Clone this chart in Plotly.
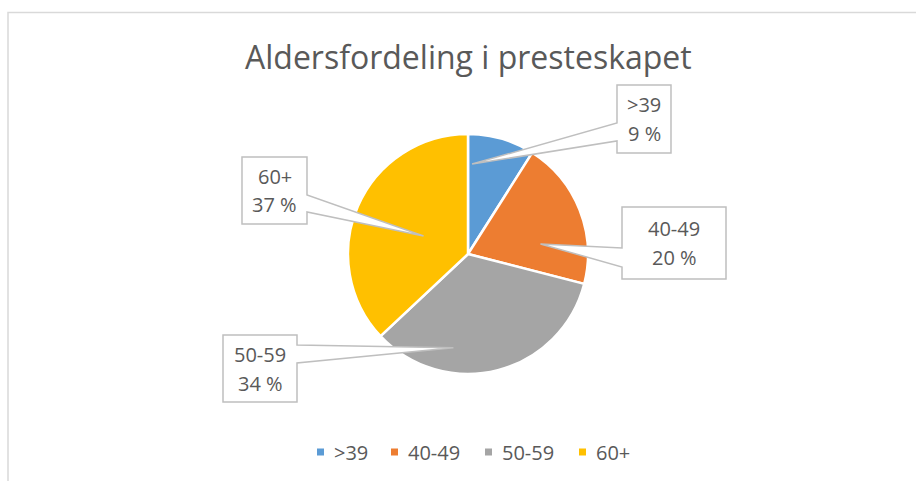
import math
import plotly.graph_objects as go

# ---- data ----
categories = [">39", "40-49", "50-59", "60+"]
values = [9, 20, 34, 37]
colors = ["#5B9BD5", "#ED7D31", "#A5A5A5", "#FFC000"]
title_text = "Aldersfordeling i presteskapet"

# ---- layout constants (pixels) ----
W, H = 916, 481
CX, CY, R = 468, 254, 120
TEXT_COLOR = "#595959"
LINE_COLOR = "#BFBFBF"
FONT = "Open Sans"

# callout boxes: (x0, y0, x1, y1), attach side, attach pair, tip fraction in slice, tip radius fraction
callouts = [
    dict(box=(617, 85, 671, 153), side="left", att=(123, 141), f=0.08, k=0.75),
    dict(box=(622, 207, 726, 279), side="left", att=(248, 267), f=0.69, k=0.61),
    dict(box=(223, 335, 297, 402), side="right", att=(345, 363), f=0.69, k=0.79),
    dict(box=(242, 157, 307, 224), side="right", att=(195, 212), f=0.49, k=0.40),
]
legend_x = [317, 391, 485, 579]
legend_y = 452


def px(x):
    return x / W


def py(y):
    return 1 - y / H


fig = go.Figure()
fig.add_trace(go.Pie(
    labels=categories,
    values=values,
    sort=False,
    direction="clockwise",
    rotation=0,
    marker=dict(colors=colors, line=dict(color="white", width=2.5)),
    textinfo="none",
    hoverinfo="skip",
    showlegend=False,
    domain=dict(x=[px(CX - R), px(CX + R)], y=[py(CY + R), py(CY - R)]),
))

shapes = []
annotations = []

# outer frame
shapes.append(dict(type="rect", xref="paper", yref="paper",
                   x0=px(8), x1=px(W + 10), y0=py(H + 10), y1=py(12.5),
                   line=dict(color="#D9D9D9", width=1.5), fillcolor="rgba(0,0,0,0)"))

total = sum(values)
cum = 0
for cat, val, c in zip(categories, values, callouts):
    start = cum / total * 360
    span = val / total * 360
    cum += val
    pct = round(val / total * 100)
    ang = math.radians(start + c["f"] * span)
    tx = CX + c["k"] * R * math.sin(ang)
    ty = CY - c["k"] * R * math.cos(ang)
    x0, y0, x1, y1 = c["box"]
    a1, a2 = c["att"]
    if c["side"] == "left":
        pts = [(x0, y0), (x1, y0), (x1, y1), (x0, y1), (x0, a2), (tx, ty), (x0, a1)]
    else:
        pts = [(x0, y0), (x1, y0), (x1, a1), (tx, ty), (x1, a2), (x1, y1), (x0, y1)]
    path = "M " + " L ".join(f"{px(a):.5f},{py(b):.5f}" for a, b in pts) + " Z"
    shapes.append(dict(type="path", xref="paper", yref="paper", path=path,
                       line=dict(color=LINE_COLOR, width=1.5), fillcolor="white"))
    mx = (x0 + x1) / 2
    my = (y0 + y1) / 2
    annotations.append(dict(x=px(mx), y=py(my - 14.5), xref="paper", yref="paper",
                            text=cat, showarrow=False, xanchor="center", yanchor="middle",
                            font=dict(family=FONT, size=20, color=TEXT_COLOR)))
    annotations.append(dict(x=px(mx), y=py(my + 14.5), xref="paper", yref="paper",
                            text=f"{pct} %", showarrow=False, xanchor="center", yanchor="middle",
                            font=dict(family=FONT, size=20, color=TEXT_COLOR)))

# manual legend
for cat, col, lx in zip(categories, colors, legend_x):
    shapes.append(dict(type="rect", xref="paper", yref="paper",
                       x0=px(lx), x1=px(lx + 7), y0=py(legend_y + 3.5), y1=py(legend_y - 3.5),
                       line=dict(width=0), fillcolor=col))
    annotations.append(dict(x=px(lx + 15), y=py(legend_y), xref="paper", yref="paper",
                            text=cat, showarrow=False, xanchor="left", yanchor="middle",
                            font=dict(family=FONT, size=20, color=TEXT_COLOR)))

# title
annotations.append(dict(x=px(468), y=py(57), xref="paper", yref="paper",
                        text=title_text, showarrow=False, xanchor="center", yanchor="middle",
                        font=dict(family=FONT, size=32, color=TEXT_COLOR)))

fig.update_layout(
    width=W, height=H,
    margin=dict(l=0, r=0, t=0, b=0),
    paper_bgcolor="white",
    plot_bgcolor="white",
    showlegend=False,
    shapes=shapes,
    annotations=annotations,
)

fig.write_html(
    "out.html",
    config={"displayModeBar": False},
    post_script="document.body.style.margin='0';document.body.style.overflow='hidden';",
)
